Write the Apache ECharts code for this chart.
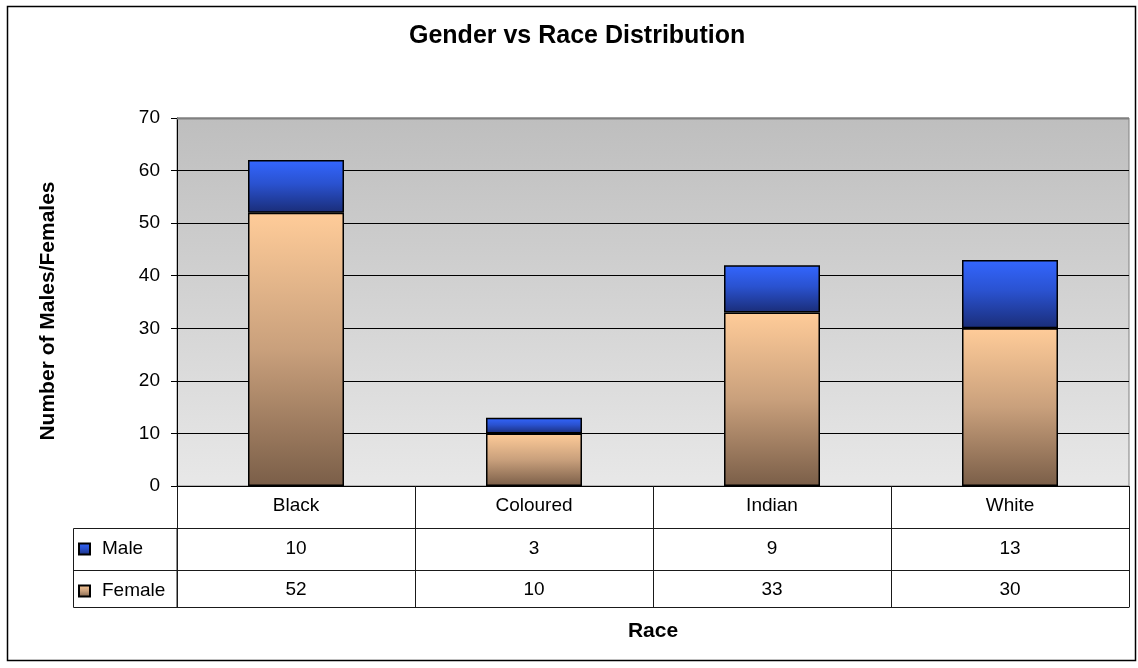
<!DOCTYPE html>
<html>
<head>
<meta charset="utf-8">
<title>Gender vs Race Distribution</title>
<script src="https://cdn.jsdelivr.net/npm/echarts@6/dist/echarts.min.js"></script>
<style>
  html, body { margin: 0; padding: 0; background: #ffffff; }
  #chart { width: 1138px; height: 668px; }
</style>
</head>
<body>
<div id="chart"></div>
<script>
// Race categories along the x axis
const races = ['Black', 'Coloured', 'Indian', 'White'];
// Head counts per race
const maleCounts = [10, 3, 9, 13];
const femaleCounts = [52, 10, 33, 30];
// Value axis range
const yMin = 0;
const yMax = 70;
const yStep = 10;

const FONT = '"Liberation Sans", Arial, sans-serif';

const femaleFill = new echarts.graphic.LinearGradient(0, 0, 0, 1, [
  { offset: 0, color: '#FFCC99' },
  { offset: 0.5, color: '#C9A07C' },
  { offset: 1, color: '#7A5E48' }
]);
const maleFill = new echarts.graphic.LinearGradient(0, 0, 0, 1, [
  { offset: 0, color: '#3366FF' },
  { offset: 0.45, color: '#2A52D0' },
  { offset: 1, color: '#1A2D78' }
]);
const plotFill = new echarts.graphic.LinearGradient(0, 0, 0, 1, [
  { offset: 0, color: '#BEBEBE' },
  { offset: 1, color: '#E8E8E8' }
]);

const tableLine = { color: '#1a1a1a', width: 1 };
const cellText = { color: '#000', fontSize: 19, fontFamily: FONT };

// Data-table rows drawn as extra category axes under the plot
function tableRowAxis(values, offset, tickLen, margin) {
  return {
    type: 'category',
    gridIndex: 0,
    position: 'bottom',
    offset: offset,
    data: values.map(String),
    axisLine: { show: true, lineStyle: tableLine },
    axisTick: { show: true, interval: 0, length: tickLen, inside: false, lineStyle: tableLine },
    axisLabel: Object.assign({ margin: margin, interval: 0 }, cellText),
    splitLine: { show: false }
  };
}

const chart = echarts.init(document.getElementById('chart'), null, { renderer: 'canvas' });

chart.setOption({
  backgroundColor: '#ffffff',
  animation: false,
  title: {
    text: 'Gender vs Race Distribution',
    left: 409,
    top: 24,
    padding: 0,
    textStyle: { fontFamily: FONT, fontWeight: 'bold', fontSize: 25, color: '#000' }
  },
  legend: {
    orient: 'vertical',
    left: 78,
    top: 538,
    padding: 0,
    data: ['Male', 'Female'],
    icon: 'rect',
    itemWidth: 11,
    itemHeight: 11,
    itemGap: 20,
    selectedMode: false,
    textStyle: { fontFamily: FONT, fontSize: 19, color: '#000', lineHeight: 22, padding: [0, 0, 0, 7] }
  },
  grid: {
    left: 177,
    right: 9,
    top: 118,
    bottom: 182,
    show: true,
    backgroundColor: plotFill,
    borderColor: '#808080',
    borderWidth: 1
  },
  xAxis: [
    {
      type: 'category',
      gridIndex: 0,
      position: 'bottom',
      data: races,
      axisLine: { show: true, lineStyle: { color: '#000', width: 1 } },
      axisTick: { show: true, interval: 0, length: 42, lineStyle: tableLine },
      axisLabel: Object.assign({ margin: 10, interval: 0 }, cellText),
      splitLine: { show: false }
    },
    tableRowAxis(maleCounts, 42, 42, 11),
    tableRowAxis(femaleCounts, 84, 37, 10),
    {
      type: 'category',
      gridIndex: 0,
      position: 'bottom',
      offset: 121,
      data: races,
      axisLine: { show: true, lineStyle: tableLine },
      axisTick: { show: false },
      axisLabel: { show: false },
      splitLine: { show: false },
      name: 'Race',
      nameLocation: 'middle',
      nameGap: 14,
      nameTextStyle: { fontFamily: FONT, fontWeight: 'bold', fontSize: 21, color: '#000' }
    }
  ],
  yAxis: {
    type: 'value',
    min: yMin,
    max: yMax,
    interval: yStep,
    name: 'Number of Males/Females',
    nameLocation: 'middle',
    nameRotate: 90,
    nameGap: 118,
    nameTextStyle: { fontFamily: FONT, fontWeight: 'bold', fontSize: 21, color: '#000', padding: [0, 18, 0, 0] },
    axisLine: { show: true, lineStyle: { color: '#000', width: 1 } },
    axisTick: { show: true, length: 6, lineStyle: { color: '#000' } },
    axisLabel: { margin: 17, fontFamily: FONT, fontSize: 19, color: '#000' },
    splitLine: { show: true, showMinLine: false, showMaxLine: false, lineStyle: { color: '#000', width: 1 } }
  },
  series: [
    {
      name: 'Female',
      type: 'bar',
      stack: 'people',
      data: femaleCounts,
      barWidth: 96,
      itemStyle: { color: femaleFill, borderColor: '#000', borderWidth: 1.5 }
    },
    {
      name: 'Male',
      type: 'bar',
      stack: 'people',
      data: maleCounts,
      barWidth: 96,
      itemStyle: { color: maleFill, borderColor: '#000', borderWidth: 1.5 }
    }
  ],
  graphic: [
    // outer chart frame
    { type: 'rect', silent: true, z: 0,
      shape: { x: 7.5, y: 6.5, width: 1128, height: 654 },
      style: { fill: null, stroke: '#000', lineWidth: 1.5 } },
    // top edge of the plot area
    { type: 'line', silent: true, z: 10,
      shape: { x1: 177, y1: 118.5, x2: 1129, y2: 118.5 },
      style: { stroke: '#808080', lineWidth: 2 } },
    // left column of the data table (series keys)
    { type: 'rect', silent: true, z: 10,
      shape: { x: 73.5, y: 528.5, width: 103.5, height: 79 },
      style: { fill: null, stroke: '#1a1a1a', lineWidth: 1 } },
    { type: 'line', silent: true, z: 10,
      shape: { x1: 73.5, y1: 570.5, x2: 177, y2: 570.5 },
      style: { stroke: '#1a1a1a', lineWidth: 1 } }
  ]
});
</script>
</body>
</html>
